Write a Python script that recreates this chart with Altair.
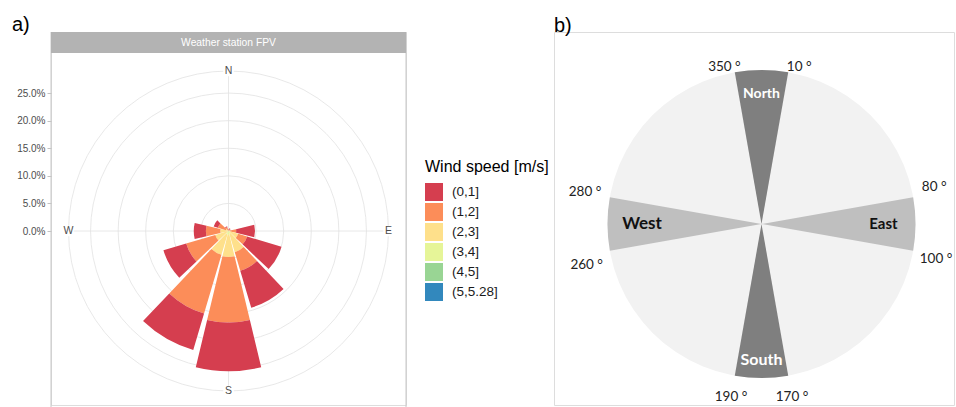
import math
import altair as alt
import pandas as pd

# ---------------- data ----------------
directions = [0, 30, 60, 90, 120, 150, 180, 210, 240, 270, 300, 330]
speed_bins = ["(0,1]", "(1,2]", "(2,3]", "(3,4]", "(4,5]", "(5,5.28]"]
speed_colors = ["#d53e4f", "#fc8d59", "#fee08b", "#e6f598", "#99d594", "#3288bd"]
# percentage of time per direction sector, one list per wind-speed class
pct_0_1 = [0.2, 0.2, 0.1, 3.4, 6.5, 7.0, 8.8, 6.9, 4.3, 2.2, 0.8, 0.2]
pct_1_2 = [0.1, 0.2, 0.2, 1.1, 1.7, 3.5, 11.9, 11.1, 5.5, 2.6, 1.5, 0.6]
pct_2_3 = [0.0, 0.1, 0.1, 0.25, 1.6, 3.55, 4.0, 3.9, 2.3, 1.4, 0.5, 0.1]
pct_3_4 = [0.0, 0.0, 0.0, 0.05, 0.2, 0.4, 0.6, 0.5, 0.2, 0.1, 0.0, 0.0]
pct_4_5 = [0.0, 0.0, 0.0, 0.0, 0.02, 0.05, 0.1, 0.1, 0.0, 0.0, 0.0, 0.0]
pct_5_528 = [0.0] * 12
r_ticks = [0, 5, 10, 15, 20, 25]
grid_radii = [5, 10, 15, 20, 25, 29]
cardinal_labels = ["N", "E", "S", "W"]
cardinal_angles = [0, 90, 180, 270]
strip_label = ["Weather station FPV"]

sector_names = ["North", "East", "South", "West"]
sector_start = [-10, 80, 170, 260]
sector_end = [10, 100, 190, 280]
deg_values = [350, 10, 80, 100, 280, 260, 190, 170]

# ---------------- layout constants ----------------
R_MAX = 29.0
R_PX = 160.0
K = R_PX / R_MAX
W_A, H_A, CY_A = 355, 373, 199
BAR_FRAC = 0.9

R_B = 154.0
W_B, H_B = 400, 373
CX_B, CY_B = 207.5, 192
name_radius = [0.845, 0.792, 0.883, 0.776]
name_sizes = [14, 17, 16, 17]
deg_nudge = [-3.3, 3.5, -2.1, 1.2, 0.3, -3.2, 0.0, 0.0]
deg_radius = [1.047, 1.049, 1.147, 1.155, 1.165, 1.166, 1.141, 1.142]
TITLE_DY = 21

FONT = "Liberation Sans"
FONT_B = "Lato"

# ---------------- panel a: wind rose ----------------
series = [pct_0_1, pct_1_2, pct_2_3, pct_3_4, pct_4_5, pct_5_528]
rows = []
for i, d in enumerate(directions):
    cum = 0.0
    # innermost = highest speed class, outermost = (0,1]
    for b in reversed(range(len(speed_bins))):
        v = series[b][i]
        if v > 0:
            rows.append({"dir": d, "speed": speed_bins[b], "r0": cum, "r1": cum + v,
                         "t0": d - 15 * BAR_FRAC, "t1": d + 15 * BAR_FRAC})
        cum += v
bars_df = pd.DataFrame(rows)

theta_a = alt.Scale(domain=[0, 360], range=[0, 2 * math.pi])
r_a = alt.Scale(type="linear", domain=[0, R_MAX], range=[0, R_PX], zero=True, nice=False)
xs_a = alt.Scale(domain=[-W_A / 2 / K, W_A / 2 / K], nice=False, zero=False)
ys_a = alt.Scale(domain=[-(H_A - CY_A) / K, CY_A / K], nice=False, zero=False)
y_axis = alt.Axis(values=r_ticks, labelExpr="format(datum.value, '.1f') + '%'",
                  title=None, domain=False, grid=False, ticks=True, tickSize=4,
                  tickColor="#b3b3b3", tickWidth=0.8, labelPadding=2,
                  labelFontSize=10, labelColor="#4d4d4d", labelFont=FONT)

cx = alt.XDatum(0, scale=xs_a, axis=None)
cy = alt.YDatum(0, scale=ys_a, axis=y_axis)

grid_df = pd.DataFrame({"r": grid_radii, "t0": 0, "t1": 360})
circles = alt.Chart(grid_df).mark_arc(filled=False, stroke="#e2e2e2", strokeWidth=0.8).encode(
    theta=alt.Theta("t0:Q", scale=theta_a, stack=None),
    theta2="t1:Q",
    radius=alt.Radius("r:Q", scale=r_a),
    x=cx, y=cy,
)

spoke_df = pd.DataFrame({
    "x0": [R_MAX * math.sin(math.radians(a)) for a in cardinal_angles[:2]],
    "y0": [R_MAX * math.cos(math.radians(a)) for a in cardinal_angles[:2]],
    "x1": [R_MAX * math.sin(math.radians(a)) for a in cardinal_angles[2:]],
    "y1": [R_MAX * math.cos(math.radians(a)) for a in cardinal_angles[2:]],
})
spokes = alt.Chart(spoke_df).mark_rule(color="#e2e2e2", strokeWidth=0.8).encode(
    x=alt.X("x0:Q", scale=xs_a, axis=None), x2="x1:Q",
    y=alt.Y("y0:Q", scale=ys_a, axis=y_axis), y2="y1:Q",
)

bars = alt.Chart(bars_df).mark_arc().encode(
    theta=alt.Theta("t0:Q", scale=theta_a, stack=None),
    theta2="t1:Q",
    radius=alt.Radius("r1:Q", scale=r_a),
    radius2="r0:Q",
    color=alt.Color("speed:N", scale=alt.Scale(domain=speed_bins, range=speed_colors),
                    legend=alt.Legend(title="Wind speed [m/s]", orient="none",
                                      legendX=374, legendY=127, padding=0,
                                      symbolType="square", symbolSize=324,
                                      symbolStrokeWidth=0, symbolOffset=0,
                                      titleFont=FONT, titleFontSize=16,
                                      titleFontWeight="normal", titleColor="#000000",
                                      titlePadding=8, labelFont=FONT,
                                      labelFontSize=13.5, labelColor="#1a1a1a",
                                      labelOffset=9, rowPadding=2)),
    x=cx, y=cy,
)

card_df = pd.DataFrame({
    "label": cardinal_labels,
    "x": [R_MAX * math.sin(math.radians(a)) for a in cardinal_angles],
    "y": [R_MAX * math.cos(math.radians(a)) for a in cardinal_angles],
})
card_bg = alt.Chart(card_df).mark_square(color="white", opacity=1, size=110).encode(
    x=alt.X("x:Q", scale=xs_a, axis=None),
    y=alt.Y("y:Q", scale=ys_a, axis=y_axis),
)
card_txt = alt.Chart(card_df).mark_text(font=FONT, fontSize=10.5, color="#4d4d4d",
                                         baseline="middle", align="center").encode(
    x=alt.X("x:Q", scale=xs_a, axis=None),
    y=alt.Y("y:Q", scale=ys_a, axis=y_axis),
    text="label:N",
)

strip_df = pd.DataFrame({"strip": strip_label})
# panel border: left and right sides only (bottom edge runs off the picture)
border_l = alt.Chart(strip_df).mark_rule(color="#c8c8c8", strokeWidth=1).encode(
    x=alt.value(0), y=alt.value(0), y2=alt.value(H_A + 5),
)
border_r = alt.Chart(strip_df).mark_rule(color="#c8c8c8", strokeWidth=1).encode(
    x=alt.value(W_A), y=alt.value(0), y2=alt.value(H_A + 5),
)
strip = alt.Chart(strip_df).mark_rect(color="#b3b3b3").encode(
    x=alt.value(0), x2=alt.value(W_A), y=alt.value(0), y2=alt.value(21),
)
strip_txt = alt.Chart(strip_df).mark_text(font=FONT, fontSize=10.3, color="white",
                                           baseline="middle", align="center").encode(
    x=alt.value(W_A / 2), y=alt.value(10.5), text="strip:N",
)

rose = alt.layer(circles, spokes, bars, card_bg, card_txt, border_l, border_r,
                 strip, strip_txt).properties(
    width=W_A, height=H_A,
    title=alt.Title("a)", anchor="start", frame="group", dx=-39, dy=TITLE_DY, offset=1.5,
                    baseline="alphabetic", fontSize=20, fontWeight="normal",
                    font=FONT, color="#000000"),
)

# ---------------- panel b: direction sectors ----------------
theta_b = alt.Scale(domain=[0, 360], range=[0, 2 * math.pi])
r_b = alt.Scale(type="linear", domain=[0, 1], range=[0, R_B], zero=True, nice=False)
xs_b = alt.Scale(domain=[-CX_B / R_B, (W_B - CX_B) / R_B], nice=False, zero=False)
ys_b = alt.Scale(domain=[-(H_B - CY_B) / R_B, CY_B / R_B], nice=False, zero=False)
bx = alt.XDatum(0, scale=xs_b, axis=None)
by = alt.YDatum(0, scale=ys_b, axis=None)

disc_df = pd.DataFrame({"t0": [0], "t1": [360], "r": [1.0]})
disc = alt.Chart(disc_df).mark_arc(color="#f2f2f2").encode(
    theta=alt.Theta("t0:Q", scale=theta_b, stack=None), theta2="t1:Q",
    radius=alt.Radius("r:Q", scale=r_b), x=bx, y=by,
)

sec_df = pd.DataFrame({"name": sector_names, "t0": sector_start, "t1": sector_end,
                       "r": [1.0] * 4, "mid": [(a + b) / 2 for a, b in zip(sector_start, sector_end)],
                       "lr": name_radius})
sectors = alt.Chart(sec_df).mark_arc().encode(
    theta=alt.Theta("t0:Q", scale=theta_b, stack=None), theta2="t1:Q",
    radius=alt.Radius("r:Q", scale=r_b),
    color=alt.Color("name:N", scale=alt.Scale(domain=sector_names,
                                              range=["#7f7f7f", "#bfbfbf", "#7f7f7f", "#bfbfbf"]),
                    legend=None),
    x=bx, y=by,
)

size_scale = alt.Scale(domain=sector_names, range=name_sizes)
names_ns = alt.Chart(sec_df).transform_filter(
    "datum.name == 'North' || datum.name == 'South'"
).mark_text(font=FONT_B, fontWeight="bold", color="white", baseline="middle", align="center").encode(
    theta=alt.Theta("mid:Q", scale=theta_b, stack=None),
    radius=alt.Radius("lr:Q", scale=r_b),
    size=alt.Size("name:N", scale=size_scale, legend=None),
    text="name:N", x=bx, y=by,
)
names_ew = alt.Chart(sec_df).transform_filter(
    "datum.name == 'East' || datum.name == 'West'"
).mark_text(font=FONT_B, fontWeight="bold", color="#111111", baseline="middle", align="center").encode(
    theta=alt.Theta("mid:Q", scale=theta_b, stack=None),
    radius=alt.Radius("lr:Q", scale=r_b),
    size=alt.Size("name:N", scale=size_scale, legend=None),
    text="name:N", x=bx, y=by,
)

deg_df = pd.DataFrame({"deg": deg_values,
                       "label": [f"{v} °" for v in deg_values],
                       "t": [v + n for v, n in zip(deg_values, deg_nudge)],
                       "lr": deg_radius})
deg_txt = alt.Chart(deg_df).mark_text(font=FONT_B, fontSize=13.5, color="#222222",
                                       baseline="middle", align="center").encode(
    theta=alt.Theta("t:Q", scale=theta_b, stack=None),
    radius=alt.Radius("lr:Q", scale=r_b),
    text="label:N", x=bx, y=by,
)

wheel = alt.layer(disc, sectors, names_ns, names_ew, deg_txt).properties(
    width=W_B, height=H_B,
    title=alt.Title("b)", anchor="start", frame="group", dx=0, dy=TITLE_DY, offset=1.5,
                    baseline="alphabetic", fontSize=20, fontWeight="normal",
                    font=FONT, color="#000000"),
)

chart = alt.hconcat(rose, wheel, spacing=148, bounds="flush").resolve_scale(
    theta="independent", radius="independent", color="independent", size="independent",
).properties(
    padding={"left": 11, "top": 14, "right": 0, "bottom": 0},
    background="white",
).configure_view(stroke="transparent", strokeWidth=0).configure(font=FONT)

chart.save("out.html", embed_options={"renderer": "svg", "actions": False})
